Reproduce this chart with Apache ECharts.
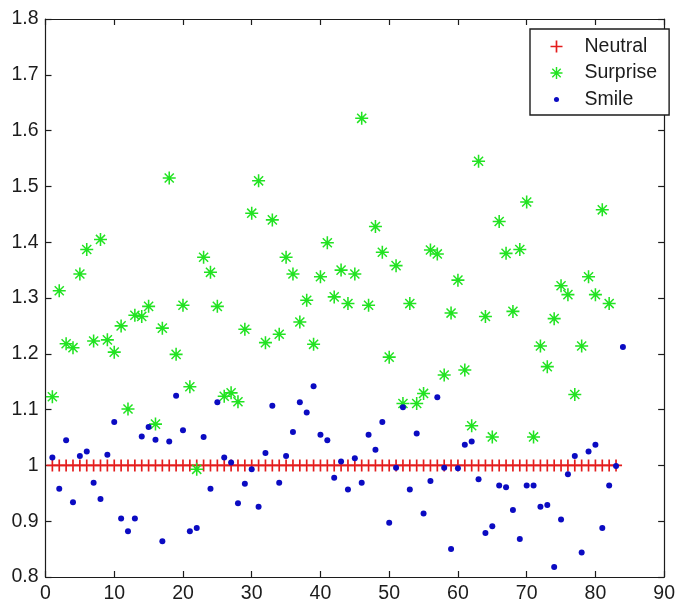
<!DOCTYPE html>
<html>
<head>
<meta charset="utf-8">
<script src="https://cdn.jsdelivr.net/npm/echarts@6/dist/echarts.min.js"></script>
<style>
  html, body { margin: 0; padding: 0; background: #fff; }
  #chart { width: 678px; height: 608px; }
</style>
</head>
<body>
<div id="chart"></div>
<script>
// Per-sample scores, one entry per sample index (1, 2, 3, ...)
const neutral = [
  1, 1, 1, 1, 1, 1, 1, 1, 1, 1, 1, 1, 1, 1, 1, 1, 1, 1, 1, 1,
  1, 1, 1, 1, 1, 1, 1, 1, 1, 1, 1, 1, 1, 1, 1, 1, 1, 1, 1, 1,
  1, 1, 1, 1, 1, 1, 1, 1, 1, 1, 1, 1, 1, 1, 1, 1, 1, 1, 1, 1,
  1, 1, 1, 1, 1, 1, 1, 1, 1, 1, 1, 1, 1, 1, 1, 1, 1, 1, 1, 1,
  1, 1, 1
];

const surprise = [
  1.123, 1.313, 1.218, 1.211, 1.343, 1.387, 1.223, 1.405, 1.225, 1.203,
  1.250, 1.101, 1.269, 1.267, 1.285, 1.074, 1.246, 1.515, 1.199, 1.287,
  1.141, 0.993, 1.373, 1.346, 1.285, 1.124, 1.130, 1.114, 1.244, 1.452,
  1.510, 1.220, 1.440, 1.235, 1.373, 1.343, 1.257, 1.296, 1.217, 1.338,
  1.399, 1.302, 1.350, 1.290, 1.343, 1.622, 1.287, 1.428, 1.382, 1.194,
  1.358, 1.111, 1.290, 1.111, 1.129, 1.386, 1.379, 1.162, 1.273, 1.332,
  1.171, 1.071, 1.545, 1.267, 1.051, 1.437, 1.380, 1.276, 1.387, 1.472,
  1.051, 1.214, 1.177, 1.263, 1.322, 1.306, 1.127, 1.214, 1.338, 1.306,
  1.458, 1.290
];

const smile = [
  1.014, 0.958, 1.045, 0.934, 1.017, 1.025, 0.969, 0.940, 1.019, 1.078,
  0.905, 0.882, 0.905, 1.052, 1.069, 1.046, 0.864, 1.043, 1.125, 1.063,
  0.882, 0.888, 1.051, 0.958, 1.113, 1.014, 1.005, 0.932, 0.967, 0.993,
  0.926, 1.022, 1.107, 0.969, 1.017, 1.060, 1.113, 1.095, 1.142, 1.055,
  1.045, 0.978, 1.007, 0.957, 1.013, 0.969, 1.055, 1.028, 1.078, 0.897,
  0.996, 1.104, 0.957, 1.057, 0.914, 0.972, 1.122, 0.996, 0.850, 0.995,
  1.037, 1.043, 0.975, 0.879, 0.891, 0.964, 0.961, 0.920, 0.868, 0.964,
  0.964, 0.926, 0.929, 0.818, 0.903, 0.984, 1.017, 0.844, 1.025, 1.037,
  0.888, 0.964, 0.999, 1.212
];

const seriesNames = ['Neutral', 'Surprise', 'Smile'];
const xTicks = { min: 0, max: 90, step: 10 };
const yTicks = { min: 0.8, max: 1.8, step: 0.1 };

// Marker shapes: plus, asterisk (plus + diagonals), small dot
const PLUS = 'path://M4.3,0L5.7,0L5.7,10L4.3,10ZM0,4.3L10,4.3L10,5.7L0,5.7Z';
const ASTERISK = 'path://M4.4,0L5.6,0L5.6,10L4.4,10Z' +
  'M0,4.4L10,4.4L10,5.6L0,5.6Z' +
  'M1.9,1.1L8.9,8.1L8.1,8.9L1.1,1.9Z' +
  'M8.1,1.1L8.9,1.9L1.9,8.9L1.1,8.1Z';
const DOT_LEGEND = 'path://M0,0L0,0M10,10L10,10M2.9,5A2.1,2.1,0,1,1,7.1,5A2.1,2.1,0,1,1,2.9,5Z';

const RED = '#e41c1c';
const GREEN = '#22e322';
const BLUE = '#0b0bc2';
const INK = '#1c1c1c';
const FONT = "'Liberation Sans', Arial, sans-serif";
const FONT_SIZE = 19.5;

const toPoints = arr => arr.map((v, i) => [i + 1, v]);

function valueAxis(range, position, primary) {
  return {
    type: 'value',
    position: position,
    min: range.min,
    max: range.max,
    interval: range.step,
    axisLine: { show: true, onZero: false, lineStyle: { color: INK, width: 1.2 } },
    axisTick: { show: true, inside: true, length: 6, lineStyle: { color: INK, width: 1.2 } },
    axisLabel: primary ? {
      show: true,
      color: INK,
      fontFamily: FONT,
      fontSize: FONT_SIZE,
      margin: 7,
      formatter: v => String(+Number(v).toFixed(1))
    } : { show: false },
    splitLine: { show: false }
  };
}

const chart = echarts.init(document.getElementById('chart'), null, { renderer: 'canvas' });

chart.setOption({
  animation: false,
  backgroundColor: '#ffffff',
  grid: { left: 45.5, right: 9, top: 19, bottom: 31 },
  xAxis: [valueAxis(xTicks, 'bottom', true), valueAxis(xTicks, 'top', false)],
  yAxis: [valueAxis(yTicks, 'left', true), valueAxis(yTicks, 'right', false)],
  legend: {
    left: 530,
    top: 29,
    orient: 'vertical',
    selectedMode: false,
    backgroundColor: '#ffffff',
    borderColor: INK,
    borderWidth: 1.4,
    borderRadius: 0,
    padding: [7.5, 12, 5.5, 20.5],
    itemGap: 6.5,
    itemWidth: 46,
    itemHeight: 12,
    textStyle: { fontFamily: FONT, fontSize: FONT_SIZE, lineHeight: 20, color: INK },
    data: [
      { name: seriesNames[0], icon: PLUS, itemStyle: { color: RED } },
      { name: seriesNames[1], icon: ASTERISK, itemStyle: { color: GREEN } },
      { name: seriesNames[2], icon: DOT_LEGEND, itemStyle: { color: BLUE } }
    ]
  },
  series: [
    {
      name: seriesNames[0],
      type: 'scatter',
      data: toPoints(neutral),
      symbol: PLUS,
      symbolSize: 12,
      itemStyle: { color: RED, opacity: 1 },
      emphasis: { disabled: true }
    },
    {
      name: seriesNames[1],
      type: 'scatter',
      data: toPoints(surprise),
      symbol: ASTERISK,
      symbolSize: 13,
      itemStyle: { color: GREEN, opacity: 1 },
      emphasis: { disabled: true }
    },
    {
      name: seriesNames[2],
      type: 'scatter',
      data: toPoints(smile),
      symbol: 'circle',
      symbolSize: 6,
      itemStyle: { color: BLUE, opacity: 1 },
      emphasis: { disabled: true }
    }
  ]
});
</script>
</body>
</html>
